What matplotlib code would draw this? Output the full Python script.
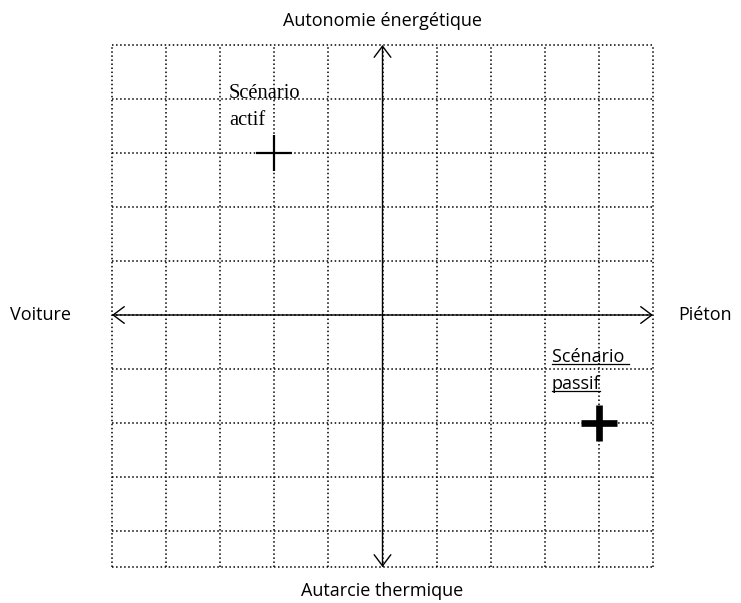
import numpy as np
import matplotlib.pyplot as plt
from matplotlib.lines import Line2D

# Axes labels (four directions)
label_haut = "Autonomie énergétique"
label_bas = "Autarcie thermique"
label_gauche = "Voiture"
label_droite = "Piéton"

# Scenarios: position on the grid
scenarios = ["Scénario actif", "Scénario passif"]
scen_x = [-2, 4]
scen_y = [3, -2]

# Grid extent (in cells)
x_min, x_max = -5, 5
y_min, y_max = -4.667, 5

fig = plt.figure(figsize=(7.41, 6.03), dpi=100)
ax = fig.add_axes([112 / 741, 36 / 603, 541 / 741, 522 / 603])
ax.set_xlim(x_min, x_max)
ax.set_ylim(y_min, y_max)
ax.axis('off')

sans = ['Open Sans', 'DejaVu Sans']
serif = ['Liberation Serif', 'DejaVu Serif']

# grille pointillée
for gx in np.arange(x_min, x_max + 1):
    ax.axvline(gx, color='black', ls=':', lw=1.1, zorder=1, clip_on=False)
for gy in list(np.arange(-4, y_max + 1)) + [y_min]:
    ax.axhline(gy, color='black', ls=':', lw=1.1, zorder=1, clip_on=False)

# axes fléchés
fleche = dict(arrowstyle='<->,head_length=0.4,head_width=0.3', lw=1.0,
              color='black', shrinkA=0, shrinkB=0, mutation_scale=20)
ax.annotate('', xy=(x_min, 0), xytext=(x_max, 0), arrowprops=fleche, zorder=3)
ax.annotate('', xy=(0, y_min), xytext=(0, y_max), arrowprops=fleche, zorder=3)

# étiquettes des axes
fs = 13
ax.text(0, 5.44, label_haut, ha='center', va='center', fontsize=fs, family=sans, clip_on=False)
ax.text(0, -5.11, label_bas, ha='center', va='center', fontsize=fs, family=sans, clip_on=False)
ax.text(-6.885, 0, label_gauche, ha='left', va='center', fontsize=fs, family=sans, clip_on=False)
ax.text(5.47, 0, label_droite, ha='left', va='center', fontsize=fs, family=sans, clip_on=False)

# scénario actif : croix fine, texte serif
ax.plot(scen_x[0], scen_y[0], marker='+', ms=26, mew=1.6, color='black', zorder=4)
ax.text(-2.84, 4.01, "Scénario", ha='left', va='baseline', fontsize=14.8, family=serif)
ax.text(-2.84, 3.52, "actif", ha='left', va='baseline', fontsize=14.8, family=serif)

# scénario passif : croix épaisse, texte souligné
ax.plot(scen_x[1], scen_y[1], marker='+', ms=26, mew=4.8, color='black', zorder=4)
t1 = ax.text(3.13, -0.865, "Scénario ", ha='left', va='baseline', fontsize=fs, family=sans)
t2 = ax.text(3.13, -1.37, "passif", ha='left', va='baseline', fontsize=fs, family=sans)

fig.canvas.draw()
r = fig.canvas.get_renderer()
for t in (t1, t2):
    bb = t.get_window_extent(r)
    _, yb = ax.transData.transform(t.get_position())
    yl = yb - 2
    fig.add_artist(Line2D([bb.x0, bb.x1], [yl, yl], transform=None, color='black', lw=0.9))

fig.savefig('out.png', dpi=100)
